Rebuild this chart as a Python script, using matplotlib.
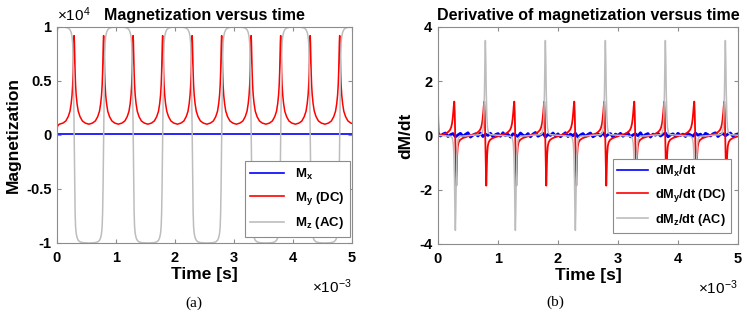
import numpy as np
import matplotlib
matplotlib.use("Agg")
import matplotlib.pyplot as plt

plt.rcParams['font.family'] = ['Liberation Sans', 'DejaVu Sans']
plt.rcParams['mathtext.fontset'] = 'custom'
plt.rcParams['mathtext.rm'] = 'Liberation Sans'
plt.rcParams['mathtext.bf'] = 'Liberation Sans:bold'
plt.rcParams['mathtext.it'] = 'Liberation Sans:italic'
plt.rcParams['axes.unicode_minus'] = False

# switching times (ms): Mz crosses zero, My peaks
switch_t = [0.29, 0.79, 1.29, 1.79, 2.29, 2.79, 3.29, 3.79, 4.29, 4.79]
switch_sign = [-1, 1, -1, 1, -1, 1, -1, 1, -1, 1]   # direction of Mz flip

# --- panel (a): magnetization (units of 1e4) ---
# My pulse around a peak (offset in ms, value)
my_dt = [-0.25, -0.19, -0.14, -0.10, -0.07, -0.05, -0.035, -0.025, -0.017, -0.01, -0.005,
         0.0, 0.005, 0.01, 0.017, 0.025, 0.035, 0.05, 0.07, 0.10, 0.14, 0.19, 0.25]
my_val = [0.10, 0.11, 0.13, 0.17, 0.22, 0.29, 0.37, 0.46, 0.58, 0.74, 0.86,
          0.92, 0.86, 0.74, 0.58, 0.46, 0.37, 0.29, 0.22, 0.17, 0.13, 0.11, 0.10]
my_start_t = [0.0, 0.01, 0.02, 0.03]
my_start_v = [0.065, 0.08, 0.09, 0.095]

# Mz flip (falling shape, multiplied by switch_sign)
mz_dt = [-0.25, -0.15, -0.10, -0.07, -0.05, -0.035, -0.025, -0.017, -0.01, -0.005,
         0.0, 0.005, 0.01, 0.017, 0.025, 0.035, 0.05, 0.07, 0.10, 0.15, 0.25]
mz_val = [1.0, 0.997, 0.99, 0.975, 0.95, 0.91, 0.85, 0.72, 0.5, 0.27,
          0.0, -0.27, -0.5, -0.72, -0.85, -0.91, -0.95, -0.975, -0.99, -0.997, -1.0]
mz_start_t = [0.0, 0.015, 0.03]
mz_start_v = [0.96, 0.985, 0.995]

mx_t = [0.0, 5.0]
mx_val = [0.005, 0.005]

# --- panel (b): derivatives ---
dmy_dt = [-0.25, -0.20, -0.15, -0.12, -0.09, -0.07, -0.055, -0.045, -0.035, -0.027, -0.018,
          -0.01, -0.003, 0.005, 0.015, 0.022, 0.03, 0.04, 0.055, 0.08, 0.12, 0.17, 0.21, 0.25]
dmy_val = [0.01, 0.04, 0.08, 0.13, 0.20, 0.30, 0.45, 0.62, 0.85, 1.08, 1.25,
           0.8, 0.0, -1.0, -1.85, -1.3, -0.7, -0.4, -0.25, -0.16, -0.10, -0.06, -0.03, 0.01]
dmy_start_t = [0.0, 0.005, 0.012, 0.03]
dmy_start_v = [1.05, 0.5, 0.1, 0.04]

dmz_dt = [-0.25, -0.08, -0.05, -0.035, -0.025, -0.015, -0.007, 0.0,
          0.007, 0.015, 0.025, 0.035, 0.05, 0.08, 0.25]
dmz_val = [0.0, 0.03, 0.1, 0.3, 0.7, 1.6, 2.8, 3.5,
           2.8, 1.6, 0.7, 0.3, 0.1, 0.03, 0.0]

# dMx/dt: noisy band around zero, values read along the time axis
dmx_val = [0.06, -0.02, 0.05, 0.09, -0.04, 0.03, 0.07, -0.05, 0.02, 0.08,
           -0.03, 0.04, 0.10, -0.06, 0.01, 0.06, -0.02, 0.09, -0.04, 0.05,
           0.00, 0.08, -0.05, 0.03, 0.07, -0.03, 0.10, -0.01, 0.04, -0.06,
           0.06, 0.02, -0.04, 0.09, 0.01, -0.02, 0.07, -0.05, 0.05, 0.11,
           -0.03, 0.02, 0.08, -0.06, 0.04, 0.00, 0.09, -0.02, 0.06, -0.05,
           0.03, 0.10, -0.04, 0.05, -0.01, 0.08, -0.06, 0.02, 0.07, -0.03,
           0.04, 0.09, -0.05, 0.01, 0.06, -0.02, 0.10, -0.04, 0.03, 0.07,
           -0.06, 0.05, 0.00, 0.08, -0.03, 0.04, 0.09, -0.05, 0.02, 0.06,
           -0.01, 0.10, -0.04, 0.03, 0.07, -0.06, 0.05, 0.01, 0.08, -0.02,
           0.04, 0.09, -0.05, 0.02, 0.06, -0.03, 0.08, 0.00, 0.05, -0.04,
           0.07, 0.02, -0.03, 0.09, 0.01, 0.05, -0.05, 0.08, 0.03, -0.02,
           0.06, 0.10, -0.04, 0.04, 0.07, -0.01, 0.05, 0.09, -0.03, 0.03,
           0.06]
dmx_t = np.linspace(0, 5, len(dmx_val))

a_yticks = [-1, -0.5, 0, 0.5, 1]
a_yticklabels = ['-1', '-0.5', '0', '0.5', '1']
b_yticks = [-4, -2, 0, 2, 4]
b_yticklabels = ['-4', '-2', '0', '2', '4']
xticks = [0, 1, 2, 3, 4, 5]


def place(t0_list, t_start, v_start, dt, val, signs=None):
    ts, vs = list(t_start), list(v_start)
    for i, t0 in enumerate(t0_list):
        s = 1 if signs is None else signs[i]
        ts += [t0 + d for d in dt]
        vs += [s * v for v in val]
    return np.array(ts), np.array(vs)


my_t, my = place(switch_t, my_start_t, my_start_v, my_dt, my_val)
mz_t, mz = place(switch_t, mz_start_t, mz_start_v, mz_dt,
                 mz_val, [-s for s in switch_sign])
dmy_t, dmy = place(switch_t, dmy_start_t, dmy_start_v, dmy_dt, dmy_val)
dmz_t, dmz = place(switch_t, [0.0], [0.0], dmz_dt, dmz_val, switch_sign)

blue = '#0000ff'
red = '#ff0000'
gray = '#bdbdbd'
spine = '#8c8c8c'

fig = plt.figure(figsize=(7.47, 3.21), dpi=100)
ax1 = fig.add_axes([0.0763, 0.243, 0.395, 0.673])
ax2 = fig.add_axes([0.5863, 0.240, 0.4016, 0.676])

ax1.plot(mx_t, mx_val, color=blue, lw=1.2, label='M$_\\mathbf{x}$')
ax1.plot(my_t, my, color=red, lw=1.1, label='M$_\\mathbf{y}$ (DC)')
ax1.plot(mz_t, mz, color=gray, lw=1.1, label='M$_\\mathbf{z}$ (AC)')
ax1.set_ylim(-1, 1)
ax1.set_yticks(a_yticks)
ax1.set_yticklabels(a_yticklabels)
ax1.set_ylabel('Magnetization', fontsize=12.5, fontweight='bold', labelpad=4)
ax1.set_title('Magnetization versus time', fontsize=11.5, fontweight='bold', pad=5)
ax1.text(0.0, 1.015, r'$\mathrm{\times10^{4}}$', transform=ax1.transAxes,
         fontsize=11, ha='left', va='bottom')
leg1 = ax1.legend(loc='lower right', bbox_to_anchor=(0.993, 0.028), borderaxespad=0,
                  labelspacing=0.6, handlelength=2.4)

ax2.plot(dmx_t, dmx_val, color=blue, lw=2.0, label='dM$_\\mathbf{x}$/dt')
ax2.plot(dmy_t, dmy, color=red, lw=1.3, label='dM$_\\mathbf{y}$/dt (DC)')
ax2.plot(dmz_t, dmz, color=gray, lw=1.1, label='dM$_\\mathbf{z}$/dt (AC)')
ax2.set_ylim(-4, 4)
ax2.set_yticks(b_yticks)
ax2.set_yticklabels(b_yticklabels)
ax2.set_ylabel('dM/dt', fontsize=12.5, fontweight='bold', labelpad=4)
ax2.set_title('Derivative of magnetization versus time', fontsize=11.5,
              fontweight='bold', pad=5)
leg2 = ax2.legend(loc='lower right', bbox_to_anchor=(0.977, 0.05), borderaxespad=0,
                  labelspacing=0.6, handlelength=2.2, handletextpad=0.5,
                  borderpad=0.35)

for ax, leg, fs in [(ax1, leg1, 9.5), (ax2, leg2, 9.2)]:
    ax.set_xlim(0, 5)
    ax.set_xticks(xticks)
    ax.set_xlabel('Time [s]', fontsize=12.5, fontweight='bold', labelpad=1)
    ax.tick_params(direction='in', length=3, width=0.8, color=spine,
                   top=True, right=True, labelsize=10.5, pad=4)
    ax.tick_params(axis='x', pad=6)
    for lab in ax.get_xticklabels() + ax.get_yticklabels():
        lab.set_fontweight('bold')
    for sp in ax.spines.values():
        sp.set_color(spine)
        sp.set_linewidth(0.8)
    ax.text(1.0, -0.16, r'$\mathrm{\times10^{-3}}$', transform=ax.transAxes,
            fontsize=11, ha='right', va='top')
    fr = leg.get_frame()
    fr.set_edgecolor(spine)
    fr.set_linewidth(0.8)
    fr.set_boxstyle('square', pad=0)
    fr.set_alpha(1)
    for txt in leg.get_texts():
        txt.set_fontweight('bold')
        txt.set_fontsize(fs)
    for h in leg.get_lines():
        h.set_linewidth(1.2)

fig.text(0.26, 0.056, '(a)', family='Liberation Serif', fontsize=11,
         ha='center', va='center')
fig.text(0.743, 0.059, '(b)', family='Liberation Serif', fontsize=11,
         ha='center', va='center')

fig.savefig('out.png', dpi=100)
